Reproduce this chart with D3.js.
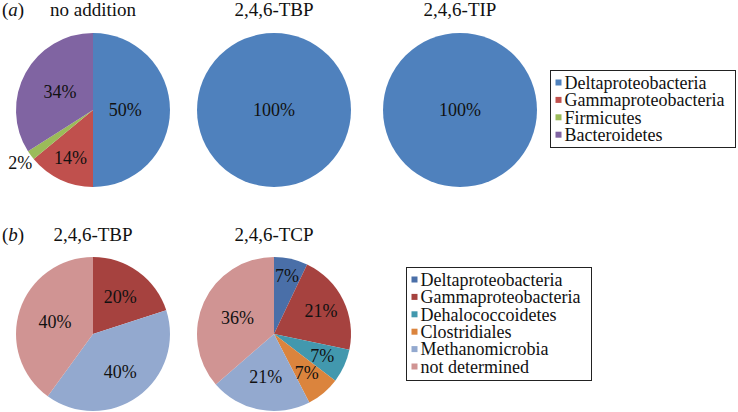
<!DOCTYPE html>
<html>
<head>
<meta charset="utf-8">
<script src="https://cdn.jsdelivr.net/npm/d3@7"></script>
<style>
  body { margin: 0; background: #fff; }
  text { font-family: "Liberation Serif", "Times New Roman", serif; fill: #111; }
</style>
</head>
<body>
<svg id="chart"></svg>
<script>
// panel (a)
var catsA = ["Deltaproteobacteria", "Gammaproteobacteria", "Firmicutes", "Bacteroidetes"];
var colorsA = ["#4f81bd", "#c0504d", "#9bbb59", "#8064a2"];
var noAddition = [50, 14, 2, 34];
var tbpA = [100, 0, 0, 0];
var tipA = [100, 0, 0, 0];

// panel (b)
var catsB = ["Deltaproteobacteria", "Gammaproteobacteria", "Dehalococcoidetes", "Clostridiales", "Methanomicrobia", "not determined"];
var colorsB = ["#4a6fa8", "#a6423f", "#4298ae", "#db843d", "#93a9cf", "#d09493"];
var tbpB = [0, 20, 0, 0, 40, 40];
var tcpB = [7, 21, 7, 7, 21, 36];

var width = 738,
  height = 412,
  r = 77;

var svg = d3.select("#chart")
  .attr("width", width)
  .attr("height", height);

// label distance from centre, as fraction of radius (excel "best fit" look)
var pies = [
  {title: "no addition", values: noAddition, cats: catsA, colors: colorsA, cx: 93, cy: 110, ty: 16, lr: [0.42, 0.69, 1.17, 0.49]},
  {title: "2,4,6-TBP", values: tbpA, cats: catsA, colors: colorsA, cx: 274, cy: 110, ty: 16, lr: [0, 0, 0, 0]},
  {title: "2,4,6-TIP", values: tipA, cats: catsA, colors: colorsA, cx: 460, cy: 110, ty: 16, lr: [0, 0, 0, 0]},
  {title: "2,4,6-TBP", values: tbpB, cats: catsB, colors: colorsB, cx: 93, cy: 334, ty: 241, lr: [0, 0.6, 0, 0, 0.6, 0.52]},
  {title: "2,4,6-TCP", values: tcpB, cats: catsB, colors: colorsB, cx: 274, cy: 334, ty: 241, lr: [0.77, 0.68, 0.69, 0.66, 0.56, 0.52]}
];

var pie = d3.pie().sort(null).value(function(d) { return d; });
var arc = d3.arc().innerRadius(0).outerRadius(r);

pies.forEach(function(p) {
  var color = d3.scaleOrdinal().domain(p.cats).range(p.colors);
  var g = svg.append("g").attr("transform", "translate(" + p.cx + "," + p.cy + ")");
  var total = d3.sum(p.values);
  var arcs = pie(p.values);

  g.selectAll("path").data(arcs)
    .enter().append("path")
    .attr("d", arc)
    .attr("fill", function(d, i) { return color(p.cats[i]); });

  g.selectAll(".lbl").data(arcs.filter(function(d) { return d.value > 0; }))
    .enter().append("text")
    .attr("class", "lbl")
    .attr("text-anchor", "middle")
    .attr("dy", "0.35em")
    .style("font-size", "18px")
    .attr("x", function(d) {
      if (d.value === total) return 0;
      var a = (d.startAngle + d.endAngle) / 2;
      return Math.sin(a) * r * p.lr[d.index];
    })
    .attr("y", function(d) {
      if (d.value === total) return 0;
      var a = (d.startAngle + d.endAngle) / 2;
      return -Math.cos(a) * r * p.lr[d.index];
    })
    .text(function(d) { return Math.round(d.value) + "%"; });

  svg.append("text")
    .attr("x", p.cx)
    .attr("y", p.ty)
    .attr("text-anchor", "middle")
    .style("font-size", "19px")
    .text(p.title);
});

// panel letters
[["a", 16], ["b", 241]].forEach(function(l) {
  var t = svg.append("text").attr("x", 2).attr("y", l[1]).style("font-size", "19px");
  t.append("tspan").text("(");
  t.append("tspan").style("font-style", "italic").text(l[0]);
  t.append("tspan").text(")");
});

function legend(cats, colors, x, y, w, h) {
  var g = svg.append("g").attr("transform", "translate(" + x + "," + y + ")");
  g.append("rect")
    .attr("width", w).attr("height", h)
    .attr("fill", "#fff")
    .attr("stroke", "#222")
    .attr("stroke-width", 1);
  var row = g.selectAll(".row").data(cats)
    .enter().append("g")
    .attr("transform", function(d, i) { return "translate(0," + (12 + i * 17.4) + ")"; });
  row.append("rect")
    .attr("x", 5).attr("y", -3)
    .attr("width", 6).attr("height", 6)
    .attr("fill", function(d, i) { return colors[i]; });
  row.append("text")
    .attr("x", 14)
    .attr("dy", "0.35em")
    .style("font-size", "18px")
    .text(function(d) { return d; });
}

legend(catsA, colorsA, 550.5, 70.5, 185, 77);
legend(catsB, colorsB, 406.5, 267.5, 185, 113);
</script>
</body>
</html>
